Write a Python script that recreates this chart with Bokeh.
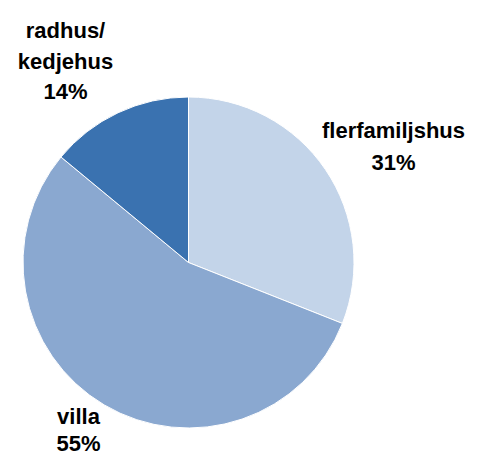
import math
from bokeh.plotting import figure
from bokeh.models import ColumnDataSource
from bokeh.core.properties import value
from bokeh.embed import file_html
from bokeh.resources import INLINE

categories = ["flerfamiljshus", "villa", "radhus/\nkedjehus"]
shares = [31, 55, 14]
colors = ["#C3D4E9", "#8AA8D0", "#3A72B0"]

W, H = 466, 456
p = figure(width=W, height=H, x_range=(0, W), y_range=(0, H),
           output_backend="svg", toolbar_location=None, min_border=0)
p.axis.visible = False
p.grid.visible = False
p.outline_line_color = None
p.background_fill_color = "white"

cx, cy, r = 188, 194, 165.5
total = sum(shares)
starts, ends = [], []
a = math.pi / 2
for s in shares:
    starts.append(a)
    a -= 2 * math.pi * s / total
    ends.append(a)

src = ColumnDataSource(dict(start=starts, end=ends, color=colors))
p.wedge(x=cx, y=cy, radius=r, start_angle="start", end_angle="end",
        direction="clock", fill_color="color", line_color="white",
        line_width=1, source=src)

# label anchors: (centre x, baseline of first line, line spacing) per category
anchors = [(393, 326, 32), (78, 40, 27), (65, 426, 30.5)]
xs, ys, txt = [], [], []
for cat, s, (ax, ay, lh) in zip(categories, shares, anchors):
    lines = cat.split("\n") + [f"{s}%"]
    for i, ln in enumerate(lines):
        xs.append(ax)
        ys.append(ay - i * lh)
        txt.append(ln)
p.text(x=xs, y=ys, text=txt, text_align="center", text_baseline="alphabetic",
       text_font=value("Liberation Sans"), text_font_style="bold",
       text_font_size="22px", text_color="#000000")

open("out.html", "w").write(file_html(p, INLINE))
